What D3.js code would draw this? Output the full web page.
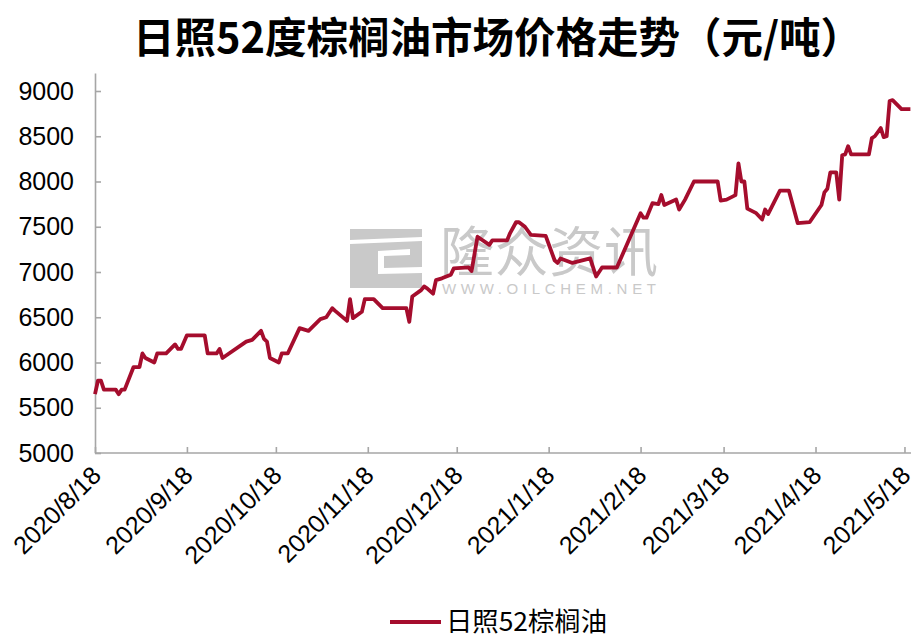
<!DOCTYPE html>
<meta charset="utf-8">
<script src="https://d3js.org/d3.v7.min.js"></script>
<style>
body { margin: 0; background: #fff; }
text { font-family: "Liberation Sans", Arial, "Noto Sans CJK SC", sans-serif; }
.cjk { font-family: "Noto Sans CJK SC", sans-serif; }
</style>
<body></body>
<script>

// chart data
var title = "日照52度棕榈油市场价格走势（元/吨）";
var seriesName = "日照52棕榈油";

var dates = [
  "2020-08-18","2020-08-19","2020-08-20","2020-08-21","2020-08-25","2020-08-26","2020-08-27","2020-08-28",
  "2020-08-31","2020-09-02","2020-09-03","2020-09-04","2020-09-07","2020-09-08","2020-09-11","2020-09-14",
  "2020-09-15","2020-09-16","2020-09-18","2020-09-24","2020-09-25","2020-09-28","2020-09-29","2020-09-30",
  "2020-10-08","2020-10-10","2020-10-13","2020-10-14","2020-10-15","2020-10-16","2020-10-19","2020-10-20",
  "2020-10-22","2020-10-26","2020-10-29","2020-11-02","2020-11-04","2020-11-06","2020-11-07","2020-11-11",
  "2020-11-12","2020-11-13","2020-11-16","2020-11-17","2020-11-20","2020-11-23","2020-12-01","2020-12-02",
  "2020-12-03","2020-12-06","2020-12-07","2020-12-08","2020-12-10","2020-12-11","2020-12-13","2020-12-16",
  "2020-12-17","2020-12-22","2020-12-23","2020-12-25","2020-12-29","2020-12-30","2021-01-04","2021-01-05",
  "2021-01-07","2021-01-08","2021-01-10","2021-01-12","2021-01-17","2021-01-20","2021-01-21","2021-01-22",
  "2021-01-26","2021-02-01","2021-02-03","2021-02-05","2021-02-10","2021-02-18","2021-02-19","2021-02-20",
  "2021-02-22","2021-02-24","2021-02-25","2021-02-26","2021-03-02","2021-03-03","2021-03-05","2021-03-08",
  "2021-03-16","2021-03-17","2021-03-19","2021-03-22","2021-03-23","2021-03-24","2021-03-25","2021-03-26",
  "2021-03-29","2021-03-31","2021-04-01","2021-04-02","2021-04-06","2021-04-09","2021-04-12","2021-04-16",
  "2021-04-20","2021-04-21","2021-04-22","2021-04-23","2021-04-25","2021-04-26","2021-04-27","2021-04-28",
  "2021-04-29","2021-04-30","2021-05-06","2021-05-07","2021-05-08","2021-05-10","2021-05-11","2021-05-12",
  "2021-05-13","2021-05-14","2021-05-17","2021-05-20"
];

var prices = [
  5650,5800,5800,5700,5700,5650,5700,5700,
  5950,5950,6100,6050,6000,6100,6100,6200,
  6150,6150,6300,6300,6100,6100,6150,6050,
  6230,6250,6350,6260,6230,6050,6000,6100,
  6100,6380,6350,6480,6500,6600,6570,6460,
  6700,6490,6560,6700,6700,6600,6600,6450,
  6730,6800,6840,6820,6760,6910,6930,6970,
  7040,7050,7010,7390,7300,7350,7350,7430,
  7550,7550,7500,7410,7400,7130,7100,7150,
  7100,7150,6950,7050,7050,7650,7600,7600,
  7760,7750,7850,7740,7800,7690,7800,8000,
  8000,7790,7800,7850,8200,8000,8000,7700,
  7650,7580,7690,7640,7900,7900,7540,7550,
  7740,7880,7920,8100,8100,7800,8290,8300,
  8390,8300,8300,8480,8500,8590,8490,8500,
  8890,8900,8800,8800
];

var xTickDates = ["2020-08-18","2020-09-18","2020-10-18","2020-11-18","2020-12-18",
  "2021-01-18","2021-02-18","2021-03-18","2021-04-18","2021-05-18"];
var yTicks = [5000,5500,6000,6500,7000,7500,8000,8500,9000];

var width = 913, height = 635;
var parse = d3.timeParse("%Y-%m-%d");
var fmt = d3.timeFormat("%Y/%-m/%-d");

var data = dates.map(function(d, i) { return {date: parse(d), price: prices[i]}; });

var svg = d3.select("body").append("svg")
  .attr("width", width)
  .attr("height", height);

svg.append("rect").attr("width", width).attr("height", height).attr("fill", "#fff");

var xScale = d3.scaleTime()
  .domain([parse("2020-08-18"), parse("2021-05-20")])
  .range([95, 910.4]);

var yScale = d3.scaleLinear()
  .domain([5000, 9200])
  .range([453, 72.9]);

// watermark
var wm = svg.append("g").attr("fill", "#c9c9c9");
wm.append("rect").attr("x", 350).attr("y", 229).attr("width", 72).attr("height", 59);
wm.append("path").attr("fill", "#fff")
  .attr("d", "M350,240 L422,237 L422,241 L350,244 Z M378,251 L410,249 L410,255 L384,256 L384,268 L422,267 L422,273 L378,274 Z");
wm.append("text").attr("class", "cjk")
  .attr("x", 440).attr("y", 272)
  .attr("font-size", 54)
  .attr("textLength", 218)
  .text("隆众资讯");
wm.append("text")
  .attr("x", 442).attr("y", 294)
  .attr("font-size", 15)
  .attr("textLength", 214)
  .text("WWW.OILCHEM.NET");

// axes
var xAxis = d3.axisBottom(xScale)
  .tickValues(xTickDates.map(parse))
  .tickSizeInner(-6)
  .tickSizeOuter(0)
  .tickFormat(fmt);

var yAxis = d3.axisLeft(yScale)
  .tickValues(yTicks)
  .tickSizeInner(-6)
  .tickSizeOuter(0)
  .tickFormat(d3.format("d"));

var xAxisGroup = svg.append("g")
  .attr("transform", "translate(0,453)")
  .call(xAxis);

xAxisGroup.select(".domain").attr("d", "M95,0H911");

xAxisGroup.selectAll("text")
  .attr("font-size", 25)
  .attr("fill", "#000")
  .attr("dy", null)
  .attr("y", null)
  .attr("text-anchor", "end")
  .attr("transform", "translate(7,24) rotate(-45)");

var yAxisGroup = svg.append("g")
  .attr("transform", "translate(95,0)")
  .call(yAxis);

yAxisGroup.selectAll("text")
  .attr("font-size", 25)
  .attr("fill", "#000")
  .attr("x", -21);

svg.selectAll(".domain, .tick line")
  .attr("stroke", "#a6a6a6")
  .attr("stroke-width", 1.6);

// price line
var line = d3.line()
  .x(function(d) { return xScale(d.date); })
  .y(function(d) { return yScale(d.price); });

svg.append("path")
  .datum(data)
  .attr("fill", "none")
  .attr("stroke", "#a50d2d")
  .attr("stroke-width", 3.8)
  .attr("stroke-linejoin", "round")
  .attr("d", line);

// title
svg.append("text")
  .attr("class", "cjk")
  .attr("x", 133).attr("y", 53)
  .attr("font-size", 42)
  .attr("font-weight", "bold")
  .attr("textLength", 729)
  .attr("lengthAdjust", "spacingAndGlyphs")
  .text(title);

// legend
svg.append("line")
  .attr("x1", 390).attr("x2", 441)
  .attr("y1", 622).attr("y2", 622)
  .attr("stroke", "#a50d2d")
  .attr("stroke-width", 4);

svg.append("text")
  .attr("class", "cjk")
  .attr("x", 446).attr("y", 631)
  .attr("font-size", 26)
  .attr("textLength", 161)
  .attr("lengthAdjust", "spacingAndGlyphs")
  .text(seriesName);

</script>
